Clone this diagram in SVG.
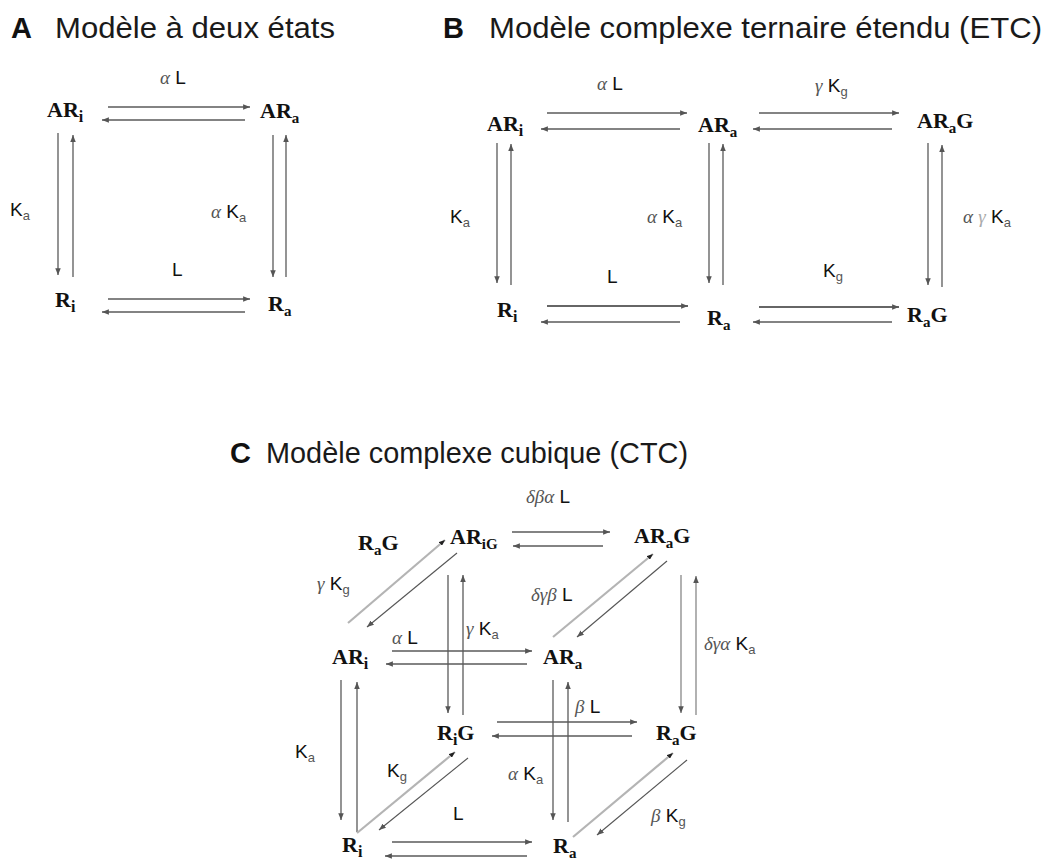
<svg xmlns="http://www.w3.org/2000/svg" width="1047" height="865" viewBox="0 0 1047 865">
<defs>
<style>
.title{font-family:"Liberation Sans",Arial,sans-serif;font-size:29px;fill:#1a1a1a}
.tl{font-family:"Liberation Sans",Arial,sans-serif;font-size:29px;font-weight:bold;fill:#111}
.node{font-family:"Liberation Serif","Times New Roman",serif;font-size:22px;font-weight:bold;fill:#111}
.lbl{font-family:"Liberation Sans",Arial,sans-serif;font-size:19px;fill:#111}
.gr{font-family:"Liberation Serif","Times New Roman",serif;font-style:italic;fill:#555}
.gl{font-family:"Liberation Serif","Times New Roman",serif;font-style:italic;fill:#aaa}
.sub{font-size:13px;fill:#555}
.c{stroke:#5a5a5a;stroke-width:1.3;fill:none;marker-end:url(#ah)}
.lt{stroke:#b4b4b4;stroke-width:2.2;fill:none;marker-end:url(#ahd)}
.dk{stroke:#555;stroke-width:1.1;fill:none;marker-end:url(#ah)}
</style>
<marker id="ah" viewBox="0 0 10 8" refX="10" refY="4" markerWidth="7" markerHeight="5.5" markerUnits="userSpaceOnUse" orient="auto"><path d="M0,0 L10,4 L0,8 z" fill="#555"/></marker>
<marker id="ahd" viewBox="0 0 10 8" refX="10" refY="4" markerWidth="6" markerHeight="5" markerUnits="userSpaceOnUse" orient="auto"><path d="M0,0 L10,4 L0,8 z" fill="#222"/></marker>
</defs>
<rect width="1047" height="865" fill="#fff"/>

<g id="titles">
<text class="tl" x="11" y="38">A</text>
<text class="title" x="55" y="38" textLength="280" lengthAdjust="spacingAndGlyphs">Modèle à deux états</text>
<text class="tl" x="443" y="38">B</text>
<text class="title" x="489" y="38" textLength="553" lengthAdjust="spacingAndGlyphs">Modèle complexe ternaire étendu (ETC)</text>
<text class="tl" x="230" y="463">C</text>
<text class="title" x="266" y="463" textLength="422" lengthAdjust="spacingAndGlyphs">Modèle complexe cubique (CTC)</text>
</g>

<g id="connectors">
<line class="c" x1="108" y1="107" x2="250" y2="107"/>
<line class="c" x1="245" y1="120" x2="102" y2="120"/>
<line class="c" x1="58" y1="133" x2="58" y2="275"/>
<line class="c" x1="73" y1="277" x2="73" y2="135"/>
<line class="c" x1="273" y1="135" x2="273" y2="277"/>
<line class="c" x1="286" y1="277" x2="286" y2="135"/>
<line class="c" x1="108" y1="299" x2="250" y2="299"/>
<line class="c" x1="245" y1="312" x2="102" y2="312"/>

<line class="c" x1="547" y1="113" x2="687" y2="113"/>
<line class="c" x1="680" y1="129" x2="541" y2="129"/>
<line class="c" x1="759" y1="113" x2="899" y2="113"/>
<line class="c" x1="892" y1="129" x2="753" y2="129"/>
<line class="c" x1="497" y1="143" x2="497" y2="283"/>
<line class="c" x1="511" y1="285" x2="511" y2="144"/>
<line class="c" x1="709" y1="143" x2="709" y2="283"/>
<line class="c" x1="723" y1="285" x2="723" y2="144"/>
<line class="c" x1="928" y1="143" x2="928" y2="285"/>
<line class="c" x1="942" y1="287" x2="942" y2="145"/>
<line class="c" x1="547" y1="306" x2="688" y2="306" style="stroke:#333"/>
<line class="c" x1="680" y1="322" x2="541" y2="322"/>
<line class="c" x1="759" y1="307" x2="899" y2="307" style="stroke:#333"/>
<line class="c" x1="892" y1="322" x2="753" y2="322"/>

<line class="c" x1="512" y1="532" x2="610" y2="532"/>
<line class="c" x1="603" y1="546" x2="513" y2="546"/>
<line class="c" x1="392" y1="651" x2="532" y2="651"/>
<line class="c" x1="527" y1="664" x2="386" y2="664"/>
<line class="c" x1="497" y1="722" x2="637" y2="722"/>
<line class="c" x1="632" y1="736" x2="492" y2="736"/>
<line class="c" x1="392" y1="842" x2="532" y2="842"/>
<line class="c" x1="527" y1="856" x2="385" y2="856"/>
<line class="c" x1="341" y1="680" x2="341" y2="820"/>
<line class="c" x1="357" y1="832" x2="357" y2="682"/>
<line class="c" x1="553" y1="680" x2="553" y2="820"/>
<line class="c" x1="568" y1="822" x2="568" y2="682"/>
<line class="c" x1="448" y1="575" x2="448" y2="713"/>
<line class="c" x1="463" y1="715" x2="463" y2="575"/>
<line class="c" x1="681" y1="575" x2="681" y2="713" style="stroke:#888"/>
<line class="c" x1="696" y1="715" x2="696" y2="576" style="stroke:#888"/>

<line class="lt" x1="348" y1="623" x2="445" y2="540"/>
<line class="dk" x1="457" y1="553" x2="367" y2="627"/>
<line class="lt" x1="553" y1="637" x2="653" y2="554"/>
<line class="dk" x1="667" y1="561" x2="577" y2="637"/>
<line class="lt" x1="357" y1="833" x2="455" y2="752"/>
<line class="dk" x1="468" y1="758" x2="379" y2="830"/>
<line class="lt" x1="573" y1="837" x2="673" y2="753"/>
<line class="dk" x1="687" y1="760" x2="597" y2="835"/>
</g>

<g id="labels">
<text class="lbl" x="160" y="84"><tspan class="gr">α</tspan> L</text>
<text class="lbl" x="10" y="216">K<tspan class="sub" dy="4">a</tspan></text>
<text class="lbl" x="211" y="218"><tspan class="gr">α</tspan> K<tspan class="sub" dy="4">a</tspan></text>
<text class="lbl" x="172" y="276">L</text>

<text class="lbl" x="597" y="90"><tspan class="gr">α</tspan> L</text>
<text class="lbl" x="815" y="92"><tspan class="gr">γ</tspan> K<tspan class="sub" dy="4">g</tspan></text>
<text class="lbl" x="450" y="223">K<tspan class="sub" dy="4">a</tspan></text>
<text class="lbl" x="647" y="223"><tspan class="gr">α</tspan> K<tspan class="sub" dy="4">a</tspan></text>
<text class="lbl" x="963" y="223"><tspan class="gr">α</tspan> <tspan class="gl">γ</tspan> K<tspan class="sub" dy="4">a</tspan></text>
<text class="lbl" x="607" y="283">L</text>
<text class="lbl" x="823" y="277">K<tspan class="sub" dy="4">g</tspan></text>

<text class="lbl" x="526" y="503"><tspan class="gr">δβα</tspan> L</text>
<text class="lbl" x="317" y="590"><tspan class="gr">γ</tspan> K<tspan class="sub" dy="4">g</tspan></text>
<text class="lbl" x="466" y="635"><tspan class="gr">γ</tspan> K<tspan class="sub" dy="4">a</tspan></text>
<text class="lbl" x="531" y="601"><tspan class="gr">δγβ</tspan> L</text>
<text class="lbl" x="704" y="650"><tspan class="gr">δγα</tspan> K<tspan class="sub" dy="4">a</tspan></text>
<text class="lbl" x="392" y="644"><tspan class="gr">α</tspan> L</text>
<text class="lbl" x="575" y="713"><tspan class="gr">β</tspan> L</text>
<text class="lbl" x="295" y="758">K<tspan class="sub" dy="4">a</tspan></text>
<text class="lbl" x="387" y="777">K<tspan class="sub" dy="4">g</tspan></text>
<text class="lbl" x="508" y="780"><tspan class="gr">α</tspan> K<tspan class="sub" dy="4">a</tspan></text>
<text class="lbl" x="453" y="820">L</text>
<text class="lbl" x="651" y="822"><tspan class="gr">β</tspan> K<tspan class="sub" dy="4">g</tspan></text>
</g>

<g id="A_ARi"><text class="node" x="47" y="117">AR<tspan dy="5" font-size="16">i</tspan></text></g>
<g id="A_ARa"><text class="node" x="260" y="118">AR<tspan dy="5" font-size="15">a</tspan></text></g>
<g id="A_Ri"><text class="node" x="55" y="307">R<tspan dy="5" font-size="16">i</tspan></text></g>
<g id="A_Ra"><text class="node" x="268" y="311">R<tspan dy="5" font-size="15">a</tspan></text></g>

<g id="B_ARi"><text class="node" x="487" y="131">AR<tspan dy="5" font-size="16">i</tspan></text></g>
<g id="B_ARa"><text class="node" x="698" y="132">AR<tspan dy="5" font-size="15">a</tspan></text></g>
<g id="B_ARaG"><text class="node" x="917" y="128">AR<tspan dy="5" font-size="15">a</tspan><tspan dy="-5">G</tspan></text></g>
<g id="B_Ri"><text class="node" x="497" y="317">R<tspan dy="5" font-size="16">i</tspan></text></g>
<g id="B_Ra"><text class="node" x="707" y="325">R<tspan dy="5" font-size="15">a</tspan></text></g>
<g id="B_RaG"><text class="node" x="907" y="322">R<tspan dy="5" font-size="15">a</tspan><tspan dy="-5">G</tspan></text></g>

<g id="C_RaG_top"><text class="node" x="358" y="550">R<tspan dy="5" font-size="15">a</tspan><tspan dy="-5">G</tspan></text></g>
<g id="C_ARiG"><text class="node" x="450" y="544">AR<tspan dy="5" font-size="15">iG</tspan></text></g>
<g id="C_ARaG"><text class="node" x="634" y="543">AR<tspan dy="5" font-size="15">a</tspan><tspan dy="-5">G</tspan></text></g>
<g id="C_ARi"><text class="node" x="332" y="664">AR<tspan dy="5" font-size="16">i</tspan></text></g>
<g id="C_ARa"><text class="node" x="543" y="664">AR<tspan dy="5" font-size="15">a</tspan></text></g>
<g id="C_RiG"><text class="node" x="437" y="740">R<tspan dy="5" font-size="16">i</tspan><tspan dy="-5">G</tspan></text></g>
<g id="C_RaG"><text class="node" x="656" y="740">R<tspan dy="5" font-size="15">a</tspan><tspan dy="-5">G</tspan></text></g>
<g id="C_Ri"><text class="node" x="342" y="852">R<tspan dy="5" font-size="16">i</tspan></text></g>
<g id="C_Ra"><text class="node" x="553" y="853">R<tspan dy="5" font-size="15">a</tspan></text></g>
</svg>
